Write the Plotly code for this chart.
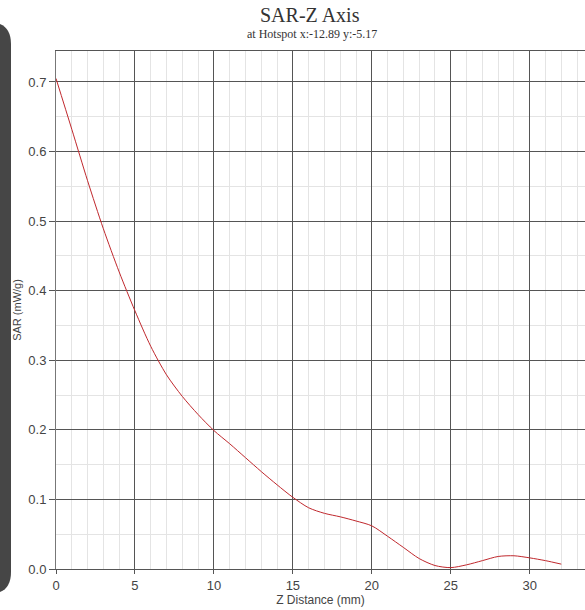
import plotly.graph_objects as go

# Data
z_mm = [0, 1, 2, 3, 4, 5, 6, 7, 8, 9, 10, 11, 12, 13, 14, 15, 16, 17, 18, 19,
        20, 21, 22, 23, 24, 25, 26, 27, 28, 29, 30, 31, 32]
sar = [0.705, 0.632, 0.558, 0.489, 0.427, 0.371, 0.320, 0.279, 0.248, 0.222,
       0.199, 0.180, 0.160, 0.140, 0.121, 0.103, 0.088, 0.080, 0.075, 0.069,
       0.062, 0.047, 0.031, 0.015, 0.005, 0.002, 0.006, 0.012, 0.018, 0.019,
       0.016, 0.012, 0.007]

x_ticks = [0, 5, 10, 15, 20, 25, 30]
y_ticks = [0.0, 0.1, 0.2, 0.3, 0.4, 0.5, 0.6, 0.7]

W, H = 585, 610
L, R, T, B = 56, 0, 51, 41
pw, ph = W - L - R, H - T - B


def px(x):
    return (x - L) / pw


def py(y):
    return (H - B - y) / ph


fig = go.Figure()
fig.add_trace(go.Scatter(
    x=z_mm, y=sar, mode="lines",
    line=dict(color="#c0282d", width=1, shape="spline", smoothing=0.8),
    showlegend=False, hoverinfo="x+y",
))

# dark rounded side panel (decoration)
x0, x1, y0, y1, r = -12, 11, 22, 594, 22
path = (f"M {px(x0)},{py(y0)} L {px(x1 - r)},{py(y0)} "
        f"Q {px(x1)},{py(y0)} {px(x1)},{py(y0 + r)} "
        f"L {px(x1)},{py(y1 - r)} Q {px(x1)},{py(y1)} {px(x1 - r)},{py(y1)} "
        f"L {px(x0)},{py(y1)} Z")
fig.add_shape(type="path", path=path, xref="paper", yref="paper",
              fillcolor="#464646", line=dict(width=0), layer="above")

fig.update_layout(
    width=W, height=H,
    margin=dict(l=L, r=R, t=T, b=B, pad=0),
    paper_bgcolor="white", plot_bgcolor="white",
    font=dict(family="Liberation Sans, Arial, sans-serif", color="#444444", size=12),
    annotations=[
        dict(text="SAR-Z Axis", x=px(310), y=py(15), xref="paper", yref="paper",
             showarrow=False, font=dict(family="Liberation Serif, Times New Roman, serif",
                                        size=20, color="#333333"),
             xanchor="center", yanchor="middle"),
        dict(text="at Hotspot x:-12.89 y:-5.17", x=px(312), y=py(34), xref="paper",
             yref="paper", showarrow=False,
             font=dict(family="Liberation Serif, Times New Roman, serif", size=12,
                       color="#333333"),
             xanchor="center", yanchor="middle"),
    ],
)

fig.update_xaxes(
    range=[0, 33.5], tickvals=x_ticks, ticktext=[str(v) for v in x_ticks],
    showgrid=True, gridcolor="#555555", gridwidth=1,
    minor=dict(dtick=1, tick0=0, showgrid=True, gridcolor="#e4e4e4", gridwidth=1),
    showline=True, linecolor="#555555", linewidth=1, mirror=True,
    ticks="outside", ticklen=4, tickcolor="#555555",
    zeroline=False,
    title=dict(text="Z Distance (mm)", font=dict(size=12, color="#444444"), standoff=2),
    tickfont=dict(size=13, color="#444444"),
)
fig.update_yaxes(
    range=[0, 0.7445], tickvals=y_ticks, ticktext=[f"{v:.1f}" for v in y_ticks],
    showgrid=True, gridcolor="#555555", gridwidth=1,
    minor=dict(dtick=0.05, tick0=0, showgrid=True, gridcolor="#e4e4e4", gridwidth=1),
    showline=True, linecolor="#777777", linewidth=1, mirror=False,
    ticks="outside", ticklen=6, tickcolor="#555555",
    zeroline=False,
    title=dict(text="SAR (mW/g)", font=dict(size=11, color="#444444"), standoff=4),
    tickfont=dict(size=13, color="#444444"),
)

fig.write_html("out.html")
